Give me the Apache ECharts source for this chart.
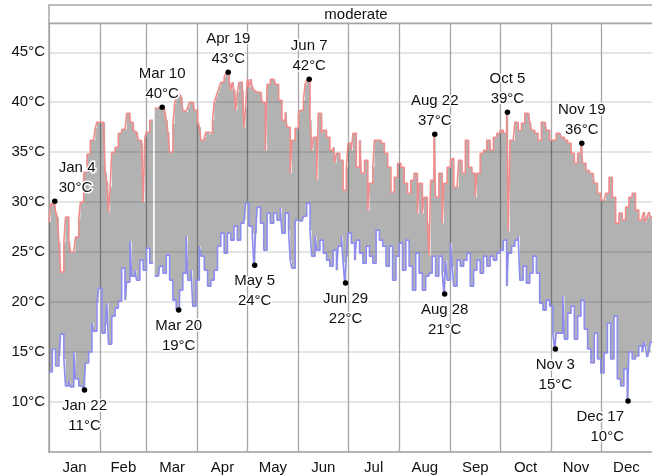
<!DOCTYPE html>
<html>
<head>
<meta charset="utf-8">
<script src="https://cdn.jsdelivr.net/npm/echarts@6/dist/echarts.min.js"></script>
<style>
  html, body { margin: 0; padding: 0; background: #fff; }
  #chart { width: 652px; height: 475px; }
</style>
</head>
<body>
<div id="chart"></div>
<script>
// month names and lengths (non-leap year)
const months = ['Jan', 'Feb', 'Mar', 'Apr', 'May', 'Jun', 'Jul', 'Aug', 'Sep', 'Oct', 'Nov', 'Dec'];
const monthDays = [31, 28, 31, 30, 31, 30, 31, 31, 30, 31, 30, 31];

// daily highs, Jan 1 .. Dec 31 (null = no reading)
const high = [
  28, 29.8, 29.8, 30.1, 29, 28.5, 26, 23, 23, 26,
  28.5, 28.5, 26, 25, 25, 25, 26.5, 26.5, 28.3, 30,
  30, 33, 33, 34.8, 34.8, 36.2, 36.2, 36.2, 37.4, 38,
  38, 38, 38, 38, 33, 32, 29, 31.5, 35, 35,
  35.5, 35.5, 36.9, 36.9, 37.3, 37.3, 37.3, 38.9, 38.9, 38,
  38, 37.2, 37, 37, 36.2, 36.2, 35.9, 30, 36.5, 37,
  37, 38.2, 38.2, null, 39.4, 39.4, 39.5, 39.4, 39.5, 39.3,
  39, 38.2, 37, 35, 35, 37.8, 39.8, 40.6, 40.8, 40.8,
  40.5, 39.2, 39.1, 39, 39.5, 40, 40, 40, 39.2, 39.2,
  38, 37.5, 36.2, 36.2, 36.5, 37, 37, 36.8, 36.9, 38.2,
  40, 40.5, 41, 41.5, 42, 42, 42.5, 42.9, 43, 42,
  41.2, 42, 41.2, 39.2, 41, 42, 42, 41.2, 37.5, 39.5,
  42.3, 41.5, 42.3, 41.5, 41.2, 41, 41, 41, 41, 40,
  40, 35.2, 41.8, 41.8, 42.3, 42.3, 42.3, 41.8, 41.8, 40.2,
  40.2, 38.2, 38.2, 39, 37.5, 37.5, 32.9, 36.2, 36.2, 37.4,
  37.4, 38.8, 39.2, 39.2, 40.2, 41.8, 42.2, 42.3, 38.2, 35.2,
  36.5, 36.5, 32.2, 38.9, 38.9, 36.9, 37.2, 37.2, 36.5, 36.5,
  35.2, 35.2, 35.5, 33.9, 34.9, 34.9, 34.2, 34.2, 31.2, 31.2,
  33.5, 35.9, 35.9, 35.2, 36.9, 36.9, 33.5, 33.5, 36.2, 32.9,
  32.9, 34.2, 34.2, 29.2, 31.9, 31.9, 33.5, 36.2, 36.2, 36.2,
  36.2, 35.9, 35.9, 34.9, 34.9, 33.5, 33.5, 31, 31, 32.5,
  32.5, 33.9, 33.9, 33.5, 33.5, 31.9, 31.9, 30.9, 30.9, 32.2,
  32.2, 32.9, 32.9, 28.9, 31.9, 31.9, 28.9, 30.5, 30.5, 27.9,
  24.7, 32.2, 32.2, 36.8, 30.5, 30.5, 32.9, 32.9, 27.9, 31.9,
  31.9, 33.5, 33.5, 34.2, 34.4, 31.5, 31.5, 31.5, 34.2, 34.2,
  32.9, 32.9, 36.2, 36.2, 33.5, 33.5, 32.9, 32.9, 30.5, 32.9,
  32.9, 34.9, 34.9, 35.2, 35.2, 36.2, 36.2, 35.2, 35.2, 36.5,
  36.5, 36.9, 36.9, 37.2, 37.2, 36.9, 36.9, 39, 27.1, 36.2,
  36.2, 36.2, 38, 38, 37.2, 37.2, 37.9, 37.9, 38.9, 38.9,
  38.9, 38, 37.2, 37.2, 36.9, 36.9, 36.2, 36.2, 38, 38,
  38, 37.2, 37.2, 36.2, 36.2, 36.2, 36.2, 36.9, 36.9, 36.9,
  36.5, 36.5, 36.2, 36.2, 35.9, 35.9, 34.9, 34.9, 33.9, 33.9,
  34.9, 34.9, 35.9, 33.9, 33.9, 33.2, 33.2, 32.9, 32.9, 32.9,
  31.9, 31.9, 30.9, 30.9, 30.2, 30.2, 30.2, 30.9, 30.9, 32.5,
  32.5, 30.5, 30.5, 27.9, 27.9, 28.9, 28.9, 28.2, 28.2, 29.5,
  29.5, 30.5, 30.5, 30.9, 30.9, 29.2, 29.2, 28.2, 28.2, 28.5,
  29, 28, 28.5, 29, 28.5
];

// daily lows, Jan 1 .. Dec 31
const low = [
  13, 13, 15.3, 15.3, 13.6, 13.6, 14.6, 16.8, 16.8, 14.3,
  11.6, 11.6, 12.1, 11.5, 11.5, 15, 12.3, 12.3, 11.6, 11.6,
  11.6, 11.2, 13.9, 13.9, 15, 15, 17.9, 17.1, 17.1, 19.9,
  21.4, 21.4, 16.9, 16.9, 17.7, 19.9, 15.8, 15.8, 18.6, 18.6,
  19.4, 19.4, 20.1, 20.1, 23.4, 23.4, 20.2, 22, 22, 26.1,
  22.6, 22.6, 23.2, 22.2, 22.2, 24.2, 24.2, 23.2, 23.2, 25.4,
  25.4, 23.9, 23.9, null, 22.6, 22.6, 22.6, 23.6, 23.6, 22.9,
  22.9, 24.7, 24.7, 22.2, 22.2, 20.2, 20.2, 19.2, 19.2, 21.2,
  21.2, 22.9, 22.9, 26.6, 22.2, 22.2, 23.2, 19.6, 19.6, 22.2,
  22.2, 25.6, 24.6, 24.6, 23.2, 23.2, 21.6, 21.6, 22.2, 22.2,
  23.2, 23.2, 25.6, 25.6, 26.9, 26.9, 24.9, 24.9, 26.9, 26.9,
  26.2, 26.2, 27.6, 27.6, 26.2, 26.2, 27.9, 27.9, 28.2, 29.9,
  29.9, 27.6, 27.6, 26.9, 23.7, 26.9, 29.5, 29.5, 27.9, 27.9,
  25.2, 25.2, 28.9, 28.9, 27.9, 27.9, 28.9, 28.9, 28.2, 28.2,
  29.4, 26.9, 26.9, 28.9, 28.9, 27.2, 24.2, 23.4, 23.4, 28.2,
  28.2, 28.1, 28.1, 28.1, 28.6, 28.6, 29.9, 29.9, 27.2, 24.6,
  24.6, 26.6, 25.2, 25.2, 26.2, 26.2, 24.9, 24.9, 24.2, 24.2,
  23.6, 23.6, 25.2, 25.2, 23.2, 25.6, 25.6, 26.6, 24, 21.9,
  24.6, 26.9, 26.9, 25.9, 25.9, 24.2, 26.2, 26.2, 24.9, 24.9,
  23.9, 23.9, 25.6, 25.6, 24.6, 24.6, 23.9, 23.9, 27.2, 27.2,
  26.2, 26.2, 25.6, 25.6, 23.6, 23.6, 25.6, 25.6, 22.2, 22.2,
  24.6, 24.6, 25.9, 25.9, 23.2, 23.2, 26.2, 26.2, 23.6, 23.6,
  21.2, 21.2, 24.9, 24.9, 22.9, 22.9, 21.2, 21.2, 22.6, 22.6,
  22.9, 22.9, 24.6, 24.6, 22.6, 22.6, 24.6, 24.6, 23, 20.8,
  24.2, 22.2, 22.2, 25.9, 23.6, 21.6, 21.6, 24.2, 24.2, 23.6,
  23.6, 24.2, 24.2, 24.9, 24.9, 21.6, 21.6, 23.2, 23.2, 24.2,
  24.2, 22.9, 22.9, 24.6, 24.6, 23.6, 23.6, 24.6, 24.6, 24.2,
  24.2, 24.9, 24.9, 25.2, 25.2, 26.2, 26.2, 21.6, 24.9, 24.9,
  25.6, 25.6, 26.2, 26.2, 26.6, 22.2, 22.2, 23.6, 23.6, 21.9,
  21.9, 22.9, 22.9, 24.6, 24.6, 22.9, 22.9, 19.9, 19.9, 19.2,
  19.2, 20.2, 20.2, 19.6, 19.6, 16.9, 15.3, 16.9, 16.9, 16.9,
  16.9, 20.6, 16.3, 16.3, 18.9, 18.9, 19.6, 19.6, 16.3, 16.3,
  18.6, 18.6, 20.2, 20.2, 17.3, 17.3, 15.3, 15.3, 13.9, 13.9,
  16.9, 16.9, 14.3, 14.3, 12.9, 12.9, 14.9, 14.9, 17.9, 17.9,
  14.3, 14.3, 18.6, 18.6, 12.3, 12.3, 11.6, 11.6, 13.3, 13.3,
  10.1, 15, 15, 14.3, 14.3, 14.6, 14.6, 15.6, 15.6, 15,
  16, 15.5, 14.5, 15, 16
];

// annotated extremes
const noteDates = ['Jan 4', 'Jan 22', 'Mar 10', 'Mar 20', 'Apr 19', 'May 5', 'Jun 7',
                   'Jun 29', 'Aug 22', 'Aug 28', 'Oct 5', 'Nov 3', 'Nov 19', 'Dec 17'];
const noteKinds = ['high', 'low', 'high', 'low', 'high', 'low', 'high',
                   'low', 'high', 'low', 'high', 'low', 'high', 'low'];
const noteTemps = [30, 11, 40, 19, 43, 24, 42, 22, 37, 21, 39, 15, 36, 10];

const titleText = 'moderate';

const FONT = '"Liberation Sans", Arial, sans-serif';
const INK = '#111';

const monthStarts = [];
let acc = 0;
monthDays.forEach(d => { monthStarts.push(acc); acc += d; });
const monthMids = monthStarts.map((s, i) => s + monthDays[i] / 2);

function dayOfYear(label) {
  const parts = label.split(' ');
  return monthStarts[months.indexOf(parts[0])] + Number(parts[1]) - 1;
}

// step points, one flat segment per day
function toPoints(arr) {
  const p = arr.map((v, i) => [i, v]);
  p.push([arr.length, arr[arr.length - 1]]);
  return p;
}

// gray band between low and high, one polygon per run of days with data
function renderBand(params, api) {
  const segs = [];
  let cur = null;
  for (let i = 0; i < high.length; i++) {
    if (high[i] == null || low[i] == null) { cur = null; continue; }
    if (!cur) { cur = { top: [], bot: [] }; segs.push(cur); }
    cur.top.push(api.coord([i, high[i]]), api.coord([i + 1, high[i]]));
    cur.bot.push(api.coord([i, low[i]]), api.coord([i + 1, low[i]]));
  }
  return {
    type: 'group',
    children: segs.map(s => ({
      type: 'polygon',
      shape: { points: s.top.concat(s.bot.reverse()) },
      style: { fill: 'rgba(0,0,0,0.3)' }
    }))
  };
}

const noteData = noteDates.map((d, k) => {
  const day = dayOfYear(d);
  const isHigh = noteKinds[k] === 'high';
  const lab = { position: isHigh ? 'top' : 'bottom', distance: isHigh ? 1 : 3 };
  if (d === 'Jan 4') { lab.align = 'left'; lab.offset = [4, 0]; }
  if (d === 'Dec 17') { lab.align = 'right'; lab.offset = [-4, 0]; }
  return { name: d, value: [day + 0.5, (isHigh ? high : low)[day]], temp: noteTemps[k], label: lab };
});

const myChart = echarts.init(document.getElementById('chart'));

const option = {
  animation: false,
  grid: { left: 49, top: 23.3, right: -11.3, bottom: 23 },
  graphic: [
    {
      type: 'rect', z: 10,
      shape: { x: 49, y: 5, width: 620, height: 18.3 },
      style: { fill: '#fff', stroke: '#a6a6a6', lineWidth: 1.5 }
    },
    {
      type: 'text', z: 11,
      style: { text: titleText, x: 356, y: 14.5, align: 'center', verticalAlign: 'middle',
               font: '15px ' + FONT, fill: INK }
    }
  ],
  xAxis: {
    type: 'value',
    min: 0,
    max: 365,
    axisLine: { show: true, lineStyle: { color: '#a6a6a6', width: 1.5 } },
    axisTick: { show: false, customValues: monthStarts },
    splitLine: { show: true, lineStyle: { color: '#a6a6a6', width: 1.3 } },
    axisLabel: {
      customValues: monthMids,
      formatter: v => months[monthMids.indexOf(v)],
      color: INK, fontSize: 15, fontFamily: FONT, margin: 8
    }
  },
  yAxis: {
    type: 'value',
    min: 5,
    max: 47.9,
    interval: 5,
    axisLine: { show: true, lineStyle: { color: '#a6a6a6', width: 1.5 } },
    axisTick: { show: false },
    splitLine: { show: true, lineStyle: { color: '#dcdcdc', width: 1.6 } },
    axisLabel: {
      formatter: '{value}°C', showMinLabel: false, showMaxLabel: false,
      color: INK, fontSize: 15, fontFamily: FONT, margin: 4
    }
  },
  series: [
    {
      name: 'range', type: 'custom', z: 2,
      coordinateSystem: 'cartesian2d',
      data: [[0, low[0]]],
      renderItem: renderBand,
      silent: true
    },
    {
      name: 'low', type: 'line', step: 'end',
      data: toPoints(low), showSymbol: false, z: 3,
      lineStyle: { color: '#8c8cf0', width: 1.6 }
    },
    {
      name: 'high', type: 'line', step: 'end',
      data: toPoints(high), showSymbol: false, z: 3,
      lineStyle: { color: '#f08c8c', width: 1.6 }
    },
    {
      name: 'notes', type: 'scatter', z: 6,
      data: noteData,
      symbolSize: 5.5,
      itemStyle: { color: '#000', opacity: 1 },
      label: {
        show: true,
        formatter: p => p.data.name + '\n' + p.data.temp + '°C',
        fontSize: 15, fontFamily: FONT, color: INK, lineHeight: 20,
        textBorderColor: '#fff', textBorderWidth: 3
      }
    }
  ]
};

myChart.setOption(option);
</script>
</body>
</html>
